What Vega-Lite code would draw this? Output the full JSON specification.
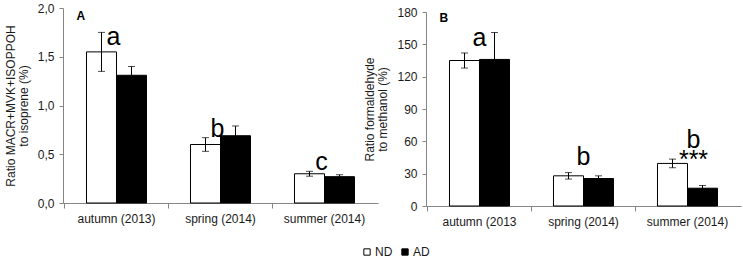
{
  "$schema": "https://vega.github.io/schema/vega-lite/v6.json",
  "padding": {"left": 4, "top": 2, "right": 2, "bottom": 2},
  "background": "white",
  "bounds": "flush",
  "spacing": 48,
  "datasets": {
    "barsA": [
      {"season": "autumn (2013)", "group": "ND", "value": 1.55, "lo": 1.35, "hi": 1.75},
      {"season": "autumn (2013)", "group": "AD", "value": 1.31, "lo": 1.22, "hi": 1.40},
      {"season": "spring (2014)", "group": "ND", "value": 0.60, "lo": 0.53, "hi": 0.67},
      {"season": "spring (2014)", "group": "AD", "value": 0.69, "lo": 0.59, "hi": 0.79},
      {"season": "summer (2014)", "group": "ND", "value": 0.30, "lo": 0.275, "hi": 0.325},
      {"season": "summer (2014)", "group": "AD", "value": 0.27, "lo": 0.25, "hi": 0.29}
    ],
    "barsB": [
      {"season": "autumn (2013", "group": "ND", "value": 135, "lo": 128, "hi": 142},
      {"season": "autumn (2013", "group": "AD", "value": 136, "lo": 111, "hi": 161},
      {"season": "spring (2014)", "group": "ND", "value": 28, "lo": 25, "hi": 31},
      {"season": "spring (2014)", "group": "AD", "value": 25.5, "lo": 23, "hi": 28},
      {"season": "summer (2014)", "group": "ND", "value": 39.5, "lo": 35.5, "hi": 43.5},
      {"season": "summer (2014)", "group": "AD", "value": 16.5, "lo": 14, "hi": 19}
    ],
    "lettersA": [
      {"season": "autumn (2013)", "label": "a", "y": 1.62},
      {"season": "spring (2014)", "label": "b", "y": 0.675},
      {"season": "summer (2014)", "label": "c", "y": 0.34}
    ],
    "lettersB": [
      {"season": "autumn (2013", "label": "a", "y": 148},
      {"season": "spring (2014)", "label": "b", "y": 38.5}
    ],
    "lettersB2": [
      {"season": "summer (2014)", "label": "b", "y": 54},
      {"season": "summer (2014)", "label": "***", "y": 35}
    ]
  },
  "hconcat": [
    {
      "width": 315,
      "height": 195,
      "layer": [
        {
          "data": {"name": "barsA"},
          "mark": {"type": "bar", "stroke": "black", "strokeWidth": 1},
          "encoding": {
            "x": {"field": "season", "type": "nominal", "sort": null, "title": null,
              "scale": {"paddingInner": 0, "paddingOuter": 0.0144},
              "axis": {"labelAngle": 0, "bandPosition": 0}},
            "xOffset": {"field": "group", "type": "nominal", "sort": ["ND", "AD"],
              "scale": {"paddingInner": 0, "paddingOuter": 0.733}},
            "y": {"field": "value", "type": "quantitative",
              "title": ["Ratio MACR+MVK+ISOPPOH", "to isoprene (%)"],
              "scale": {"domain": [0, 2], "nice": false},
              "axis": {"values": [0, 0.5, 1, 1.5, 2], "tickCount": 10, "labelExpr": "replace(format(datum.value, '.1f'), '.', ',')"}},
            "fill": {"field": "group", "type": "nominal",
              "scale": {"domain": ["ND", "AD"], "range": ["white", "black"]},
              "legend": {"title": null}}
          }
        },
        {
          "data": {"name": "barsA"},
          "mark": {"type": "rule", "color": "black", "strokeWidth": 1},
          "encoding": {
            "x": {"field": "season", "type": "nominal", "sort": null},
            "xOffset": {"field": "group", "type": "nominal", "sort": ["ND", "AD"]},
            "y": {"field": "lo", "type": "quantitative"},
            "y2": {"field": "hi"}
          }
        },
        {
          "data": {"name": "barsA"},
          "mark": {"type": "tick", "color": "black", "size": 7, "thickness": 1, "orient": "horizontal"},
          "encoding": {
            "x": {"field": "season", "type": "nominal", "sort": null},
            "xOffset": {"field": "group", "type": "nominal", "sort": ["ND", "AD"]},
            "y": {"field": "hi", "type": "quantitative"}
          }
        },
        {
          "data": {"name": "barsA"},
          "mark": {"type": "tick", "color": "black", "size": 7, "thickness": 1, "orient": "horizontal"},
          "encoding": {
            "x": {"field": "season", "type": "nominal", "sort": null},
            "xOffset": {"field": "group", "type": "nominal", "sort": ["ND", "AD"]},
            "y": {"field": "lo", "type": "quantitative"}
          }
        },
        {
          "data": {"name": "lettersA"},
          "mark": {"type": "text", "fontSize": 25, "color": "black", "baseline": "alphabetic", "align": "center", "dx": -3},
          "encoding": {
            "x": {"field": "season", "type": "nominal", "sort": null},
            "y": {"field": "y", "type": "quantitative"},
            "text": {"field": "label"}
          }
        },
        {
          "data": {"values": [{"label": "A"}]},
          "mark": {"type": "text", "fontSize": 12, "fontWeight": "bold", "color": "black", "align": "left", "baseline": "alphabetic", "dx": 12},
          "encoding": {
            "x": {"datum": "autumn (2013)", "type": "nominal", "bandPosition": 0},
            "y": {"datum": 1.874, "type": "quantitative"},
            "text": {"field": "label"}
          }
        }
      ]
    },
    {
      "width": 315,
      "height": 198,
      "layer": [
        {
          "data": {"name": "barsB"},
          "mark": {"type": "bar", "stroke": "black", "strokeWidth": 1},
          "encoding": {
            "x": {"field": "season", "type": "nominal", "sort": null, "title": null,
              "scale": {"paddingInner": 0, "paddingOuter": 0.0144},
              "axis": {"labelAngle": 0, "bandPosition": 0}},
            "xOffset": {"field": "group", "type": "nominal", "sort": ["ND", "AD"],
              "scale": {"paddingInner": 0, "paddingOuter": 0.733}},
            "y": {"field": "value", "type": "quantitative",
              "title": ["Ratio formaldehyde", "to methanol (%)"],
              "scale": {"domain": [0, 180], "nice": false, "range": [198, 4]},
              "axis": {"values": [0, 30, 60, 90, 120, 150, 180], "tickCount": 10, "format": "d", "labelOverlap": false}},
            "fill": {"field": "group", "type": "nominal",
              "scale": {"domain": ["ND", "AD"], "range": ["white", "black"]},
              "legend": {"title": null}}
          }
        },
        {
          "data": {"name": "barsB"},
          "mark": {"type": "rule", "color": "black", "strokeWidth": 1},
          "encoding": {
            "x": {"field": "season", "type": "nominal", "sort": null},
            "xOffset": {"field": "group", "type": "nominal", "sort": ["ND", "AD"]},
            "y": {"field": "lo", "type": "quantitative"},
            "y2": {"field": "hi"}
          }
        },
        {
          "data": {"name": "barsB"},
          "mark": {"type": "tick", "color": "black", "size": 7, "thickness": 1, "orient": "horizontal"},
          "encoding": {
            "x": {"field": "season", "type": "nominal", "sort": null},
            "xOffset": {"field": "group", "type": "nominal", "sort": ["ND", "AD"]},
            "y": {"field": "hi", "type": "quantitative"}
          }
        },
        {
          "data": {"name": "barsB"},
          "mark": {"type": "tick", "color": "black", "size": 7, "thickness": 1, "orient": "horizontal"},
          "encoding": {
            "x": {"field": "season", "type": "nominal", "sort": null},
            "xOffset": {"field": "group", "type": "nominal", "sort": ["ND", "AD"]},
            "y": {"field": "lo", "type": "quantitative"}
          }
        },
        {
          "data": {"name": "lettersB"},
          "mark": {"type": "text", "fontSize": 25, "color": "black", "baseline": "alphabetic", "align": "center"},
          "encoding": {
            "x": {"field": "season", "type": "nominal", "sort": null},
            "y": {"field": "y", "type": "quantitative"},
            "text": {"field": "label"}
          }
        },
        {
          "data": {"name": "lettersB2"},
          "mark": {"type": "text", "fontSize": 25, "color": "black", "baseline": "alphabetic", "align": "center", "dx": 6},
          "encoding": {
            "x": {"field": "season", "type": "nominal", "sort": null},
            "y": {"field": "y", "type": "quantitative"},
            "text": {"field": "label"}
          }
        },
        {
          "data": {"values": [{"label": "B"}]},
          "mark": {"type": "text", "fontSize": 12, "fontWeight": "bold", "color": "black", "align": "left", "baseline": "alphabetic", "dx": 12},
          "encoding": {
            "x": {"datum": "autumn (2013", "type": "nominal", "bandPosition": 0},
            "y": {"datum": 171, "type": "quantitative"},
            "text": {"field": "label"}
          }
        }
      ]
    }
  ],
  "resolve": {"scale": {"x": "independent", "y": "independent"}},
  "config": {
    "font": "Liberation Sans",
    "view": {"stroke": null},
    "axis": {
      "grid": false,
      "domainColor": "#858585",
      "tickColor": "#858585",
      "tickSize": 4,
      "labelColor": "#1a1a1a",
      "labelFont": "Liberation Sans",
      "labelFontSize": 12,
      "titleFont": "Liberation Sans",
      "titleFontSize": 12,
      "titleFontWeight": "normal",
      "titleColor": "#1a1a1a",
      "titleLineHeight": 13
    },
    "axisY": {"labelPadding": 5, "titlePadding": 7, "labelOverlap": false},
    "axisX": {"labelPadding": 5, "tickSize": 5},
    "legend": {
      "orient": "none",
      "legendX": 298,
      "legendY": 238,
      "direction": "horizontal",
      "symbolType": "square",
      "symbolSize": 40,
      "symbolStrokeColor": "black",
      "symbolStrokeWidth": 1,
      "labelFont": "Liberation Sans",
      "labelFontSize": 12,
      "labelColor": "#1a1a1a",
      "labelOffset": 2,
      "columnPadding": 6
    }
  }
}
